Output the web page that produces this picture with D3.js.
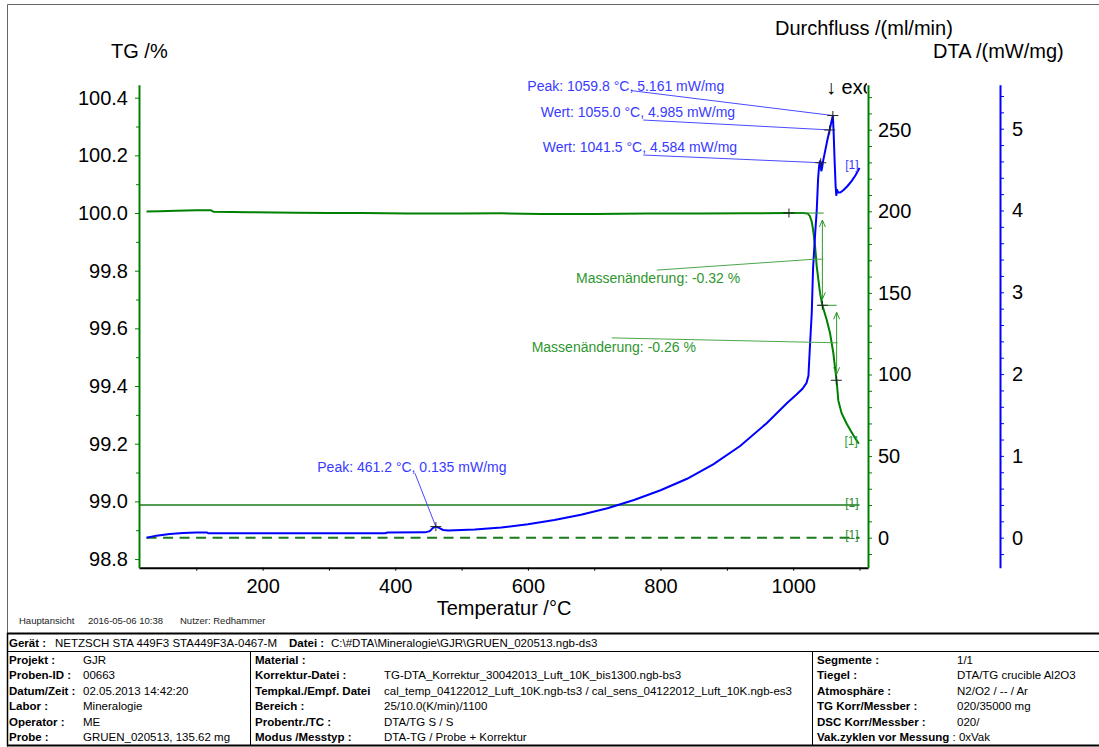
<!DOCTYPE html>
<html><head><meta charset="utf-8">
<script src="https://cdn.jsdelivr.net/npm/d3@7"></script>
<style>
body{margin:0;background:#fff}
svg{display:block}
text{font-family:"Liberation Sans",Arial,"DejaVu Sans",sans-serif}
</style>
</head><body>
<svg id="c" width="1099" height="747"></svg>
<script>
// ---------------- DATA ----------------
// DTA curve: [temperature °C, mW/mg]
const dtaData = [[25,0.0],[40,0.025],[60,0.045],[80,0.058],[100,0.064],[116,0.064],[118,0.053],[250,0.053],[385,0.055],[388,0.063],[445,0.065],[452,0.08],[457,0.12],[461.2,0.135],[466,0.12],[472,0.095],[480,0.088],[520,0.10],[560,0.125],[600,0.165],[640,0.215],[680,0.28],[720,0.36],[760,0.46],[800,0.58],[840,0.72],[880,0.90],[920,1.12],[960,1.40],[990,1.64],[1005,1.75],[1014,1.82],[1020,1.89],[1023,1.98],[1025,2.3],[1028,2.75],[1030,3.3],[1033,3.7],[1035.5,4.0],[1037.5,4.38],[1039,4.54],[1040.5,4.61],[1041.5,4.584],[1042.3,4.48],[1043.5,4.52],[1045,4.60],[1048,4.72],[1052,4.88],[1055,4.985],[1057.5,5.08],[1059.8,5.161],[1061,4.95],[1062.5,4.6],[1064,4.3],[1065,4.18],[1066,4.26],[1067.5,4.22],[1071,4.22],[1076,4.25],[1082,4.30],[1088,4.36],[1094,4.43],[1100,4.52]];
// TG curve: [temperature °C, %]
const tgData = [[25,100.005],[45,100.006],[70,100.008],[100,100.010],[122,100.010],[126,100.004],[180,100.003],[250,100.001],[300,100.0],[350,100.0],[420,99.998],[500,99.998],[560,99.999],[620,99.997],[700,99.997],[780,99.998],[860,99.998],[930,99.999],[990,100.0],[1015,100.0],[1022,99.998],[1025,99.99],[1028,99.97],[1030,99.942],[1033,99.884],[1035.5,99.815],[1038,99.768],[1040.5,99.722],[1044,99.68],[1050.5,99.63],[1055.5,99.584],[1060.5,99.515],[1064,99.446],[1065.5,99.42],[1068,99.35],[1073,99.306],[1080.5,99.27],[1088,99.24],[1094,99.217],[1099,99.2]];
// Gas flow (ml/min)
const flowPurge = [[14,20],[1100,20]];
const flowProtect = [[25,0],[1100,0]];
// DTA evaluations
const dtaNotes = [["Peak",461.2,0.135],["Peak",1059.8,5.161],["Wert",1055.0,4.985],["Wert",1041.5,4.584]];
// TG mass steps: [start %, end %, change %]
const massSteps = [[100.0,99.68,-0.32],[99.68,99.42,-0.26]];
const tgMarks = [[993.6,100.0],[1044,99.68],[1065,99.42]];
// Ticks
const xTicks = [100,200,300,400,500,600,700,800,900,1000,1100];
const xLabelTicks = [200,400,600,800,1000];
const tgTicks = [98.8,99.0,99.2,99.4,99.6,99.8,100.0,100.2,100.4];
const tgMinor = [98.9,99.1,99.3,99.5,99.7,99.9,100.1,100.3];
const flowTicks = [0,50,100,150,200,250];
const flowMinor = [-10,10,20,30,40,60,70,80,90,110,120,130,140,160,170,180,190,210,220,230,240,260,270];
const dtaTicks = [0,1,2,3,4,5];
const dtaMinor = [-0.2,0.2,0.4,0.6,0.8,1.2,1.4,1.6,1.8,2.2,2.4,2.6,2.8,3.2,3.4,3.6,3.8,4.2,4.4,4.6,4.8,5.2,5.4];
// Footer
const footLeftLabels = ["Projekt :","Proben-ID :","Datum/Zeit :","Labor :","Operator :","Probe :"];
const footLeftValues = ["GJR","00663","02.05.2013 14:42:20","Mineralogie","ME","GRUEN_020513, 135.62 mg"];
const footMidLabels = ["Material :","Korrektur-Datei :","Tempkal./Empf. Datei","Bereich :","Probentr./TC :","Modus /Messtyp :"];
const footMidValues = ["","TG-DTA_Korrektur_30042013_Luft_10K_bis1300.ngb-bs3","cal_temp_04122012_Luft_10K.ngb-ts3 / cal_sens_04122012_Luft_10K.ngb-es3"," 25/10.0(K/min)/1100","DTA/TG S / S","DTA-TG / Probe + Korrektur"];
const footRightLabels = ["Segmente :","Tiegel :","Atmosphäre :","TG Korr/Messber :","DSC Korr/Messber :","Vak.zyklen vor Messung"];
const footRightValues = ["1/1","DTA/TG crucible Al2O3","N2/O2 / -- / Ar","020/35000 mg","020/","0xVak"];

// ---------------- LAYOUT (annotation placement, data units) ----------------
const dtaNoteLayout = [
  {tx:282.4, tv:0.807, lx:429.7, lv:0.787},
  {tx:599.1, tv:5.46,  lx:756.5, lv:5.465},
  {tx:619.3, tv:5.143, lx:774,   lv:5.106},
  {tx:622.3, tv:4.715, lx:774,   lv:4.678}
];
const massLayout = [
  {tx:672.5, tv:99.758, lx:794.2, lv:99.802, bx:1032.9, arrowT:1044, h0:[993.6,1046], h1:[1037.7,1065.5]},
  {tx:605.7, tv:99.519, lx:726.3, lv:99.567, bx:1063,   arrowT:1065.5, h0:null, h1:null}
];

// ---------------- DRAW ----------------
const svg = d3.select("#c");
const GREEN = "#008000", BLUE = "#0000ff";
const x = d3.scaleLinear().domain([13.6,1112.8]).range([139,868]);
const yTG = d3.scaleLinear().domain([98.770,100.445]).range([567.7,84.7]);
const yFlow = d3.scaleLinear().domain([-18.4,277.6]).range([567.7,84.7]);
const yDTA = d3.scaleLinear().domain([-0.367,5.538]).range([567.7,84.7]);

svg.append("defs").append("clipPath").attr("id","plotclip")
  .append("rect").attr("x",0).attr("y",0).attr("width",867).attr("height",747);

// frame
svg.append("path").attr("d","M7.5,747V4.5H1099").attr("fill","none").attr("stroke","#666").attr("stroke-width",1);

// titles
svg.append("text").attr("x",111).attr("y",57.5).attr("font-size",20).text("TG /%");
svg.append("text").attr("x",775).attr("y",35).attr("font-size",20).text("Durchfluss /(ml/min)");
svg.append("text").attr("x",933).attr("y",57.5).attr("font-size",20).text("DTA /(mW/mg)");
svg.append("text").attr("x",504).attr("y",614.5).attr("font-size",20).attr("text-anchor","middle").text("Temperatur /°C");
svg.append("text").attr("x",826).attr("y",94).attr("font-size",20).attr("clip-path","url(#plotclip)").text("↓ exo");

// flow lines
const lineFlow = d3.line().x(d=>x(d[0])).y(d=>yFlow(d[1]));
svg.append("path").attr("d",lineFlow(flowPurge)).attr("fill","none").attr("stroke","#1b7a1b").attr("stroke-width",1.6);
svg.append("path").attr("d",lineFlow(flowProtect)).attr("fill","none").attr("stroke","#1b7a1b").attr("stroke-width",2).attr("stroke-dasharray","10,6.5");

// TG
const lineTG = d3.line().x(d=>x(d[0])).y(d=>yTG(d[1]));
svg.append("path").attr("d",lineTG(tgData)).attr("fill","none").attr("stroke",GREEN).attr("stroke-width",2);

// DTA
const lineDTA = d3.line().x(d=>x(d[0])).y(d=>yDTA(d[1]));
svg.append("path").attr("d",lineDTA(dtaData)).attr("fill","none").attr("stroke",BLUE).attr("stroke-width",2);

// [1] labels
function seriesTag(T,yPix,color){
  svg.append("text").attr("x",x(T)-1).attr("y",yPix+1.5).attr("text-anchor","end")
    .attr("font-size",12).attr("fill",color).text("[1]");
}
const dEnd = dtaData[dtaData.length-1], tEnd = tgData[tgData.length-1];
seriesTag(dEnd[0], yDTA(dEnd[1]), "#3a3aff");
seriesTag(tEnd[0], yTG(tEnd[1]), "#2e9a2e");
seriesTag(flowPurge[1][0], yFlow(flowPurge[1][1]), "#2e8a2e");
seriesTag(flowProtect[1][0], yFlow(flowProtect[1][1]), "#2e8a2e");

// crosses
function cross(px,py){
  svg.append("path").attr("d",`M${px-5.5},${py}H${px+5.5}M${px},${py-4.5}V${py+4.5}`)
    .attr("stroke","#222").attr("stroke-width",1).attr("fill","none");
}

// DTA annotations
dtaNotes.forEach((n,i)=>{
  const L = dtaNoteLayout[i];
  svg.append("line").attr("x1",x(L.lx)).attr("y1",yDTA(L.lv)).attr("x2",x(n[1])).attr("y2",yDTA(n[2]))
    .attr("stroke","#4a4aff").attr("stroke-width",1);
  svg.append("text").attr("x",x(L.tx)).attr("y",yDTA(L.tv)).attr("font-size",14).attr("fill","#3a3aff")
    .text(`${n[0]}: ${n[1].toFixed(1)} °C, ${n[2].toFixed(3)} mW/mg`);
  cross(x(n[1]), yDTA(n[2]));
});

// TG mass step annotations
const MG = "#2e962e";
massSteps.forEach((s,i)=>{
  const L = massLayout[i];
  const ax = x(L.arrowT), y0 = yTG(s[0]), y1 = yTG(s[1]), ym = yTG((s[0]+s[1])/2);
  if(L.h0) svg.append("line").attr("x1",x(L.h0[0])).attr("x2",x(L.h0[1])).attr("y1",y0).attr("y2",y0).attr("stroke",MG);
  if(L.h1) svg.append("line").attr("x1",x(L.h1[0])).attr("x2",x(L.h1[1])).attr("y1",y1).attr("y2",y1).attr("stroke",MG);
  const a0 = y0+7, a1 = y1-6;
  svg.append("path").attr("d",`M${ax},${a0}V${a1}M${ax-3},${a0+7}L${ax},${a0}L${ax+3},${a0+7}M${ax-3},${a1-7}L${ax},${a1}L${ax+3},${a1-7}`)
    .attr("stroke",MG).attr("stroke-width",1).attr("fill","none");
  svg.append("path").attr("d",`M${x(L.lx)},${yTG(L.lv)}L${x(L.bx)},${ym}H${ax+1}`)
    .attr("stroke","#4aa84a").attr("stroke-width",1).attr("fill","none");
  svg.append("text").attr("x",x(L.tx)).attr("y",yTG(L.tv)).attr("font-size",14).attr("fill",MG)
    .text(`Massenänderung: ${s[2].toFixed(2)} %`);
});
tgMarks.forEach(m=>cross(x(m[0]), yTG(m[1])));

// ---------------- AXES ----------------
function styleAxis(g,color){
  g.select(".domain").attr("stroke",color).attr("stroke-width",2);
  g.selectAll(".tick line").attr("stroke",color).attr("stroke-width",1);
  g.selectAll(".tick text").attr("fill","#000").attr("font-size",20).attr("font-family",'"Liberation Sans",Arial,sans-serif');
}
// X
const gx = svg.append("g").attr("transform","translate(0,567.7)")
  .call(d3.axisBottom(x).tickValues(xTicks).tickFormat(d=>xLabelTicks.includes(d)?d:"").tickSize(3).tickPadding(8).tickSizeOuter(0));
styleAxis(gx,"#000");
// TG
const gtgm = svg.append("g").attr("transform","translate(139,0)")
  .call(d3.axisLeft(yTG).tickValues(tgMinor).tickFormat("").tickSize(3).tickSizeOuter(0));
gtgm.select(".domain").remove(); gtgm.selectAll(".tick line").attr("stroke",GREEN);
const gtg = svg.append("g").attr("transform","translate(139,0)")
  .call(d3.axisLeft(yTG).tickValues(tgTicks).tickFormat(d3.format(".1f")).tickSize(4).tickPadding(7).tickSizeOuter(0));
styleAxis(gtg,GREEN);
// Flow
const gfm = svg.append("g").attr("transform","translate(868,0)")
  .call(d3.axisRight(yFlow).tickValues(flowMinor).tickFormat("").tickSize(4).tickSizeOuter(0));
gfm.select(".domain").remove(); gfm.selectAll(".tick line").attr("stroke",GREEN);
const gf = svg.append("g").attr("transform","translate(868,0)")
  .call(d3.axisRight(yFlow).tickValues(flowTicks).tickSize(4).tickPadding(6).tickSizeOuter(0));
styleAxis(gf,GREEN);
// DTA
const gdm = svg.append("g").attr("transform","translate(1000,0)")
  .call(d3.axisRight(yDTA).tickValues(dtaMinor).tickFormat("").tickSize(4).tickSizeOuter(0));
gdm.select(".domain").remove(); gdm.selectAll(".tick line").attr("stroke",BLUE);
const gd = svg.append("g").attr("transform","translate(1000,0)")
  .call(d3.axisRight(yDTA).tickValues(dtaTicks).tickFormat(d3.format("d")).tickSize(4).tickPadding(8).tickSizeOuter(0));
styleAxis(gd,BLUE);

// ---------------- FOOTER ----------------
svg.append("text").attr("x",19).attr("y",624).attr("font-size",9.5).attr("fill","#222").text("Hauptansicht");
svg.append("text").attr("x",88).attr("y",624).attr("font-size",9.5).attr("fill","#222").text("2016-05-06 10:38");
svg.append("text").attr("x",180).attr("y",624).attr("font-size",9.5).attr("fill","#222").text("Nutzer: Redhammer");

function ftext(px,py,str,bold){
  return svg.append("text").attr("x",px).attr("y",py)
    .attr("font-size",11.5).attr("font-weight",bold?"bold":"normal").attr("fill","#000").text(str);
}
const fl = (d)=>svg.append("path").attr("d",d).attr("stroke","#000").attr("fill","none");
fl("M7,633.5H1099").attr("stroke-width",2);
fl("M7,651.5H1099").attr("stroke-width",1);
fl("M7,745.5H1099").attr("stroke-width",2);
fl("M7.5,633V746").attr("stroke-width",1.5);
fl("M250.5,651V745").attr("stroke-width",1);
fl("M812.5,651V745").attr("stroke-width",1);

ftext(9,647,"Gerät :",true);
ftext(55,647,"NETZSCH STA 449F3 STA449F3A-0467-M",false);
ftext(289,647,"Datei :",true);
ftext(331,647,"C:\\#DTA\\Mineralogie\\GJR\\GRUEN_020513.ngb-ds3",false);
footLeftLabels.forEach((l,i)=>{
  const yy = 664 + i*15.45;
  ftext(9,yy,l,true); ftext(83,yy,footLeftValues[i],false);
  ftext(255,yy,footMidLabels[i],true); ftext(384,yy,footMidValues[i],false);
  if(i<5){ ftext(817,yy,footRightLabels[i],true); ftext(957,yy,footRightValues[i],false); }
  else {
    const t = ftext(817,yy,footRightLabels[i],true);
    t.append("tspan").attr("font-weight","normal").text(" : " + footRightValues[i]);
  }
});
</script>
</body></html>
